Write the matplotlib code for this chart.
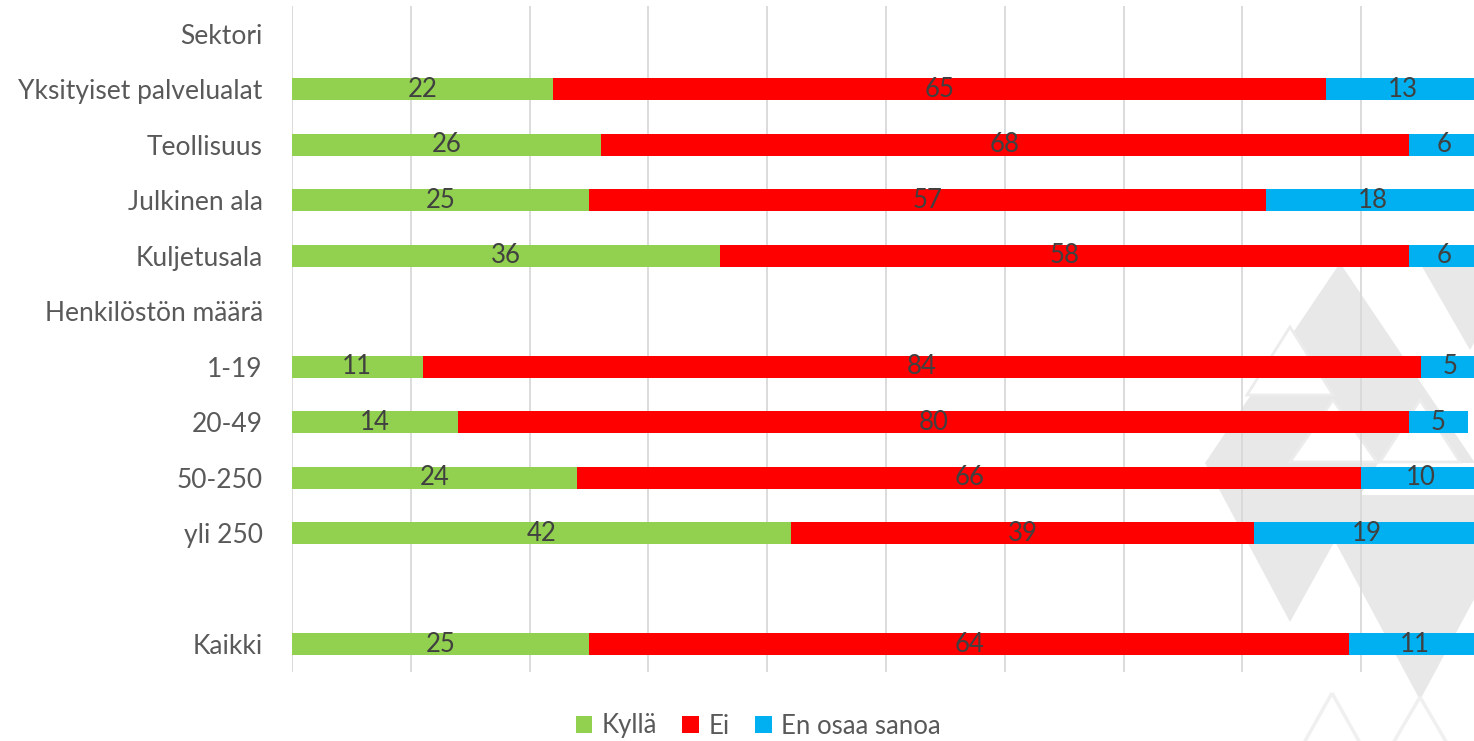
import numpy as np
import matplotlib.pyplot as plt
from matplotlib.patches import Polygon

plt.rcParams['font.family'] = ['Lato', 'DejaVu Sans']

# rows top to bottom; empty headings and the spacer row have no values
categories = ['Sektori', 'Yksityiset palvelualat', 'Teollisuus', 'Julkinen ala', 'Kuljetusala',
              'Henkilöstön määrä', '1-19', '20-49', '50-250', 'yli 250', '', 'Kaikki']
kylla = [np.nan, 22, 26, 25, 36, np.nan, 11, 14, 24, 42, np.nan, 25]
ei = [np.nan, 65, 68, 57, 58, np.nan, 84, 80, 66, 39, np.nan, 64]
eos = [np.nan, 13, 6, 18, 6, np.nan, 5, 5, 10, 19, np.nan, 11]

series = [('Kyllä', kylla, '#92d050'), ('Ei', ei, '#ff0000'), ('En osaa sanoa', eos, '#00b0f0')]

W, H = 1474, 741
fig = plt.figure(figsize=(W / 100, H / 100), dpi=100)


def px(tri):
    return [(x / W, 1 - y / H) for x, y in tri]


# faint triangle watermark in the lower right corner (pixel coords)
tri_fill = [
    [(1340, 263), (1205, 463), (1475, 463)],
    [(1205, 463), (1378, 463), (1290, 622)],
    [(1310, 495), (1530, 495), (1420, 700)],
    [(1420, 263), (1520, 263), (1470, 350)],
]
for t in tri_fill:
    fig.patches.append(Polygon(px(t), closed=True, transform=fig.transFigure,
                               facecolor='#e8e8e8', edgecolor='none', zorder=-2))
tri_holes = [
    [(1290, 327), (1247, 395), (1333, 395)],
    [(1333, 400), (1290, 462), (1377, 462)],
    [(1420, 400), (1380, 462), (1460, 462)],
]
for t in tri_holes:
    fig.patches.append(Polygon(px(t), closed=True, transform=fig.transFigure,
                               facecolor='white', edgecolor='#ececec', lw=2, zorder=-1))
tri_line = [
    [(1332, 693), (1272, 800), (1392, 800)],
    [(1420, 697), (1360, 800), (1480, 800)],
]
for t in tri_line:
    fig.patches.append(Polygon(px(t), closed=True, transform=fig.transFigure,
                               facecolor='none', edgecolor='#f0f0f0', lw=2.5, zorder=-1))

ax = fig.add_axes([292 / W, 1 - 672 / H, (1480 - 292) / W, (672 - 6) / H])
ax.patch.set_alpha(0)

y = np.arange(len(categories))
left = np.zeros(len(categories))
for name, vals, col in series:
    v = np.array(vals, dtype=float)
    bars = ax.barh(y, np.nan_to_num(v), left=left, height=0.4, color=col, label=name, zorder=2)
    for i, b in enumerate(bars):
        if not np.isnan(v[i]):
            ax.text(left[i] + v[i] / 2, y[i], f'{int(v[i])}', ha='center', va='center',
                    fontsize=18.5, color='#404040', zorder=3)
    left += np.nan_to_num(v)

ax.set_xlim(0, 100)
ax.set_ylim(len(categories) - 0.5, -0.5)
ax.set_yticks(y)
ax.set_yticklabels(categories, fontsize=19, color='#595959')
ax.set_xticks(np.arange(0, 101, 10))
ax.set_xticklabels([])
ax.tick_params(axis='both', length=0, pad=21)
ax.grid(axis='x', color='#d9d9d9', lw=1.3, zorder=1)
for s in ax.spines.values():
    s.set_visible(False)

fig.legend(loc='center', bbox_to_anchor=(758 / W, 1 - 726 / H), ncol=3, frameon=False,
           fontsize=18.5, labelcolor='#595959', handlelength=0.65, handleheight=0.65,
           handletextpad=0.35, columnspacing=1.0)

fig.savefig('out.png', dpi=100)
